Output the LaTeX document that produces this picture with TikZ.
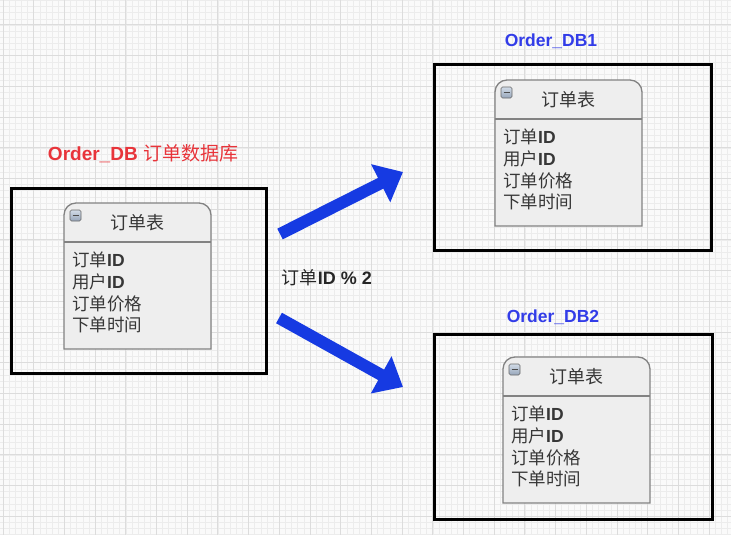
\documentclass[tikz,border=0pt]{standalone}
\usepackage{fontspec}
\setmainfont{Liberation Sans}
\newfontfamily\cjk{Noto Sans CJK SC}
\usetikzlibrary{arrows.meta}
\definecolor{bgcol}{RGB}{250,250,250}
\definecolor{gridminor}{RGB}{236,236,236}
\definecolor{gridmajor}{RGB}{220,220,220}
\definecolor{tblfill}{RGB}{238,238,238}
\definecolor{tblline}{RGB}{130,130,130}
\definecolor{txt}{RGB}{55,55,55}
\definecolor{lblred}{RGB}{232,52,58}
\definecolor{lblblue}{RGB}{50,60,232}
\definecolor{arrowblue}{RGB}{22,58,226}
\definecolor{icontop}{RGB}{210,220,232}
\definecolor{iconbot}{RGB}{150,165,185}
\newcommand\zh[1]{{\cjk #1}}
\tikzset{
  minorgrid/.style={draw=gridminor, line width=0.6pt},
  majorgrid/.style={draw=gridmajor, line width=1pt},
  dbbox/.style={draw=black, line width=3pt, inner sep=0pt, anchor=north west},
  tblbox/.style={fill=tblfill, draw=tblline, line width=1.3pt},
  tblsep/.style={draw=tblline, line width=1.3pt},
  tbltitle/.style={font=\fontsize{18pt}{20pt}\selectfont, text=txt, inner sep=0pt},
  fieldtxt/.style={font=\fontsize{17.5pt}{20pt}\selectfont, text=txt, inner sep=0pt,
    anchor=west, text height=15pt, text depth=2pt},
  dblabel/.style={font=\fontsize{18pt}{20pt}\selectfont\bfseries, inner sep=0pt},
  iconbox/.style={draw=tblline!80!black, line width=0.6pt, rounded corners=1.5pt,
    top color=icontop, bottom color=iconbot},
  bigarrow/.style={draw=arrowblue, line width=12pt,
    -{Triangle[length=25pt,width=41pt,fill=arrowblue]}},
}
\newcommand\ordertable[3]{%
  \begin{scope}[shift={(#2,#3)}]
    \filldraw[tblbox] (0,146) -- (0,12) arc[start angle=180,end angle=270,radius=12]
      -- (135,0) arc[start angle=270,end angle=360,radius=12] -- (147,146) -- cycle;
    \draw[tblsep] (0,39) -- (147,39);
    \draw[iconbox] (6,7) rectangle (17,18);
    \draw[line width=1pt, draw=black!70] (8.5,12.5) -- (14.5,12.5);
    \node[tbltitle] (#1-title) at (73.5,20) {\zh{订单表}};
    \node[fieldtxt] (#1-f1) at (8,57) {\zh{订单}\textbf{ID}};
    \node[fieldtxt] (#1-f2) at (8,79) {\zh{用户}\textbf{ID}};
    \node[fieldtxt] (#1-f3) at (8,100.5) {\zh{订单价格}};
    \node[fieldtxt] (#1-f4) at (8,121.5) {\zh{下单时间}};
  \end{scope}}
\begin{document}
\begin{tikzpicture}[x=1pt,y=-1pt]
\useasboundingbox (0,0) rectangle (731,535);
\fill[bgcol] (0,0) rectangle (731,535);
% grid
\foreach \i in {0,...,119} \draw[minorgrid] ({3+6.14*(\i-1)},0) -- ++(0,535);
\foreach \i in {0,...,87} \draw[minorgrid] (0,{0.44+6.14*\i}) -- ++(731,0);
\foreach \i in {0,...,23} \draw[majorgrid] ({3+30.7*\i},0) -- ++(0,535);
\foreach \i in {0,...,16} \draw[majorgrid] (0,{25+30.7*\i}) -- ++(731,0);
% database boxes
\node[dbbox, minimum width=255pt, minimum height=185pt] (db0) at (10,187) {};
\node[dbbox, minimum width=277pt, minimum height=186pt] (db1) at (433,63) {};
\node[dbbox, minimum width=278pt, minimum height=185pt] (db2) at (433,333) {};
% labels
\node[dblabel, text=lblred, font=\fontsize{19pt}{21pt}\selectfont\bfseries] (db0-label) at (143,154) {Order\_DB {\cjk\mdseries 订单数据库}};
\node[dblabel, text=lblblue, font=\fontsize{17.5pt}{20pt}\selectfont\bfseries] (db1-label) at (551,41) {Order\_DB1};
\node[dblabel, text=lblblue, font=\fontsize{17.5pt}{20pt}\selectfont\bfseries] (db2-label) at (553,317) {Order\_DB2};
% tables
\ordertable{t0}{64}{203}
\ordertable{t1}{495}{80}
\ordertable{t2}{503}{357}
% rule label
\node[inner sep=0pt, text=black!85, font=\fontsize{18pt}{20pt}\selectfont] (rule) at (327,278) {\zh{订单}\textbf{ID \% 2}};
% arrows
\coordinate (a1s) at (280,234);
\coordinate (a1e) at (403,172);
\coordinate (a2s) at (279,318);
\coordinate (a2e) at (403,387);
\draw[bigarrow] (a1s) -- (a1e);
\draw[bigarrow] (a2s) -- (a2e);
\end{tikzpicture}
\end{document}
